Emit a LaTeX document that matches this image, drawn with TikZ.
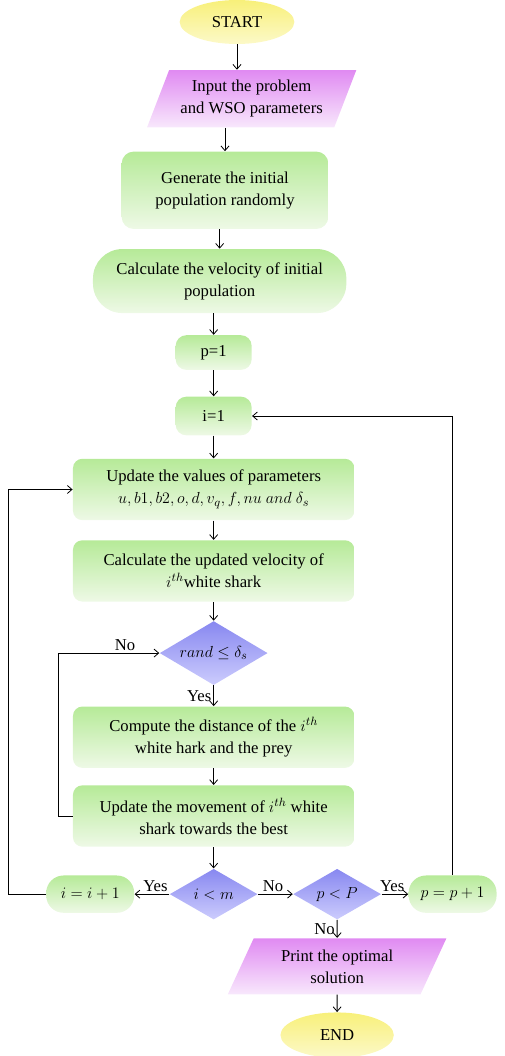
\documentclass[tikz,border=0pt]{standalone}
\usepackage{amsmath,amssymb}
\usepackage{fontspec}
\setmainfont{Liberation Serif}
\usepackage{xcolor}
\definecolor{cyl}{HTML}{F8F07A}
\definecolor{cyll}{HTML}{FCF9C8}
\definecolor{cpu}{HTML}{E08AF2}
\definecolor{cpul}{HTML}{F8E8FC}
\definecolor{cgr}{HTML}{B6EA98}
\definecolor{cgrl}{HTML}{EEF9E6}
\definecolor{cbl}{HTML}{8888F0}
\definecolor{cbll}{HTML}{CCCCFD}
\usepackage{tikz}
\usetikzlibrary{arrows.meta,positioning,shapes.geometric}

\begin{document}
\begin{tikzpicture}[
  node distance=16pt, >={Straight Barb[length=3.5pt,width=6pt]}, line width=0.6pt,
  every node/.style={font=\fontsize{12.5}{16.5}\selectfont, align=center, inner sep=2pt},
  term/.style={ellipse, top color=cyl, bottom color=cyll, minimum width=86pt, minimum height=33pt},
  io/.style={trapezium, trapezium left angle=65, trapezium right angle=115, trapezium stretches=true,
    top color=cpu, bottom color=cpul, minimum height=43pt},
  proc/.style={rectangle, rounded corners=7pt, top color=cgr, bottom color=cgrl, minimum width=211pt, minimum height=46pt},
  small/.style={rectangle, rounded corners=8pt, top color=cgr, bottom color=cgrl, minimum width=57pt},
  pill/.style={rectangle, rounded corners=13pt, top color=cgr, bottom color=cgrl, minimum width=66pt, minimum height=28pt},
  test/.style={diamond, aspect=1.7, top color=cbl, bottom color=cbll, inner sep=0pt},
  lbl/.style={inner sep=1.5pt},
]
  \useasboundingbox (-177.75pt,16.5pt) rectangle (201pt,-775.5pt);

  \node[term] (start) {START};
  \node[io, minimum width=157pt, below=19pt of start, xshift=11pt] (input) {Input the problem\\and WSO parameters};
  \node[proc, minimum width=155pt, minimum height=58pt, rounded corners=9pt, below=17.5pt of input, xshift=-20pt] (gen) {Generate the initial\\population randomly};
  \node[proc, minimum width=190pt, minimum height=48pt, rounded corners=22pt, below=14.5pt of gen, xshift=-4pt] (vel) {Calculate the velocity of initial\\population};
  \node[small, minimum height=26pt, below=16pt of vel, xshift=-4.5pt] (p1) {p=1};
  \node[small, minimum height=29pt, below=19.5pt of p1] (i1) {i=1};
  \node[proc, below=17pt of i1] (upd) {Update the values of parameters\\$u, b1, b2, o, d, v_q, f, nu~and~\delta_s$};
  \node[proc, below=14.5pt of upd] (calc) {Calculate the updated velocity of\\$i^{th}$white shark};
  \node[test, minimum width=81pt, minimum height=48pt, below=14pt of calc] (rand) {$rand \le \delta_s$};
  \node[proc, below=15.5pt of rand] (comp) {Compute the distance of the $i^{th}$\\white hark and the prey};
  \node[proc, below=12.5pt of comp] (move) {Update the movement of $i^{th}$ white\\shark towards the best};
  \node[test, minimum width=66pt, minimum height=38pt, below=16pt of move] (ilm) {$i<m$};
  \node[pill, left=26pt of ilm] (iinc) {$i=i+1$};
  \node[test, minimum width=66pt, minimum height=38pt, right=26pt of ilm] (pP) {$p<P$};
  \node[pill, right=20pt of pP] (pinc) {$p=p+1$};
  \node[io, minimum width=164pt, minimum height=42pt, below=13.5pt of pP] (print) {Print the optimal\\solution};
  \node[term, minimum width=85pt, minimum height=34pt, below=13pt of print] (end) {END};

  \draw[->] (start) -- (start |- input.north);
  \draw[->] (gen.north |- input.south) -- (gen);
  \draw[->] (vel.north |- gen.south) -- (vel);
  \draw[->] (p1.north |- vel.south) -- (p1);
  \draw[->] (p1) -- (i1);
  \draw[->] (i1) -- (upd);
  \draw[->] (upd) -- (calc);
  \draw[->] (calc) -- (rand);
  \draw[->] (rand) -- (comp) node[lbl, midway, left]{Yes};
  \draw[->] (comp) -- (move);
  \draw[->] (move) -- (ilm);
  \draw[->] (ilm) -- (iinc) node[lbl, pos=0.4, above]{Yes};
  \draw[->] (ilm) -- (pP) node[lbl, pos=0.43, above]{No};
  \draw[->] (pP) -- (pinc) node[lbl, pos=0.4, above]{Yes};
  \draw[->] (pP) -- (print) node[lbl, midway, left]{No};
  \draw[->] (print) -- (end);
  \draw[->] (move.west) -- ++(-10.5pt,0) |- (rand.west) node[lbl, pos=0.83, above]{No};
  \draw[->] (iinc.west) -- ++(-28pt,0) |- (upd.west);
  \draw[->] (pinc.north) |- (i1.east);
\end{tikzpicture}
\end{document}
